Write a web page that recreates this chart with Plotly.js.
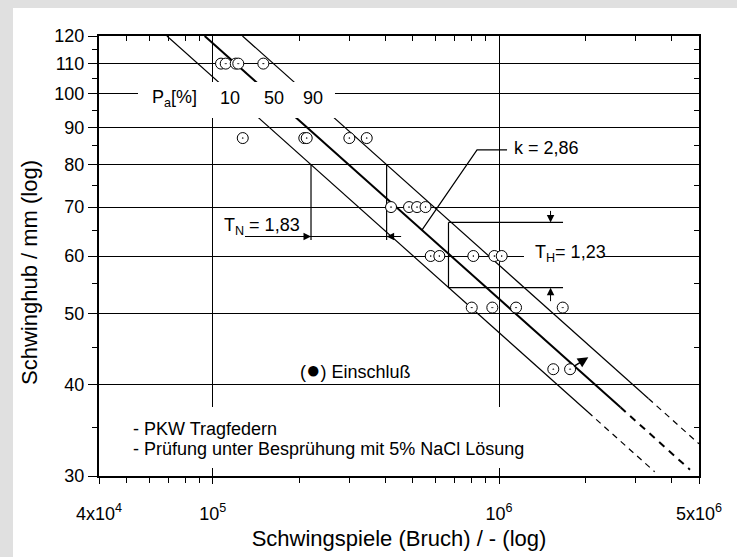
<!DOCTYPE html>
<html><head><meta charset="utf-8">
<script src="https://cdn.plot.ly/plotly-3.0.1.min.js"></script>
<style>html,body{margin:0;padding:0;background:#e0e0e0;} #chart{width:737px;height:557px;}</style>
</head><body><div id="chart"></div>
<script>
// ---------- data ----------
// test points: cycles to failure and stroke amplitude (mm)
const pointCycles = [106800,110900,120200,122700,150100,
                     127200,208700,212800,299900,344900,
                     419400,484800,517100,553600,
                     577300,618600,813400,963200,1022000,
                     803000,947700,1147000,1670000,
                     1548000,1772000];
const pointAmp = [110,110,110,110,110,
                  87,87,87,87,87,
                  70,70,70,70,
                  60,60,60,60,60,
                  51,51,51,51,
                  42,42];
// runout point (arrow tip)
const runoutCycles = [2052000];
const runoutAmp = [43.6];

// S-N lines for Pa = 10 / 50 / 90 %
const line10Cycles = [69100, 2046000];   const line10Amp = [120, 36.7];
const line10DashCycles = [2046000, 3500000]; const line10DashAmp = [36.7, 30.4];
const line50Cycles = [93600, 2658000];   const line50Amp = [120, 37.25];
const line50DashCycles = [2658000, 4650000]; const line50DashAmp = [37.25, 30.6];
const line90Cycles = [126900, 3328000];  const line90Amp = [120, 38.3];
const line90DashCycles = [3328000, 5000000]; const line90DashAmp = [38.3, 33.2];

// scatter-band construction T_N (at 80 mm)
const tnVertCycles = [220300, 404800];
const tnVertAmp = [80, 63.1];
const tnHorCycles = [129500, 450800];
const tnHorAmp = [63.8];
// scatter-band construction T_H
const thCycles = [666000, 1674000];
const thAmp = [66.7, 54.3];
const thArrowCycles = [1514000];
// leader line for slope k
const kLeaderCycles = [537700, 838000, 1067000];
const kLeaderAmp = [65.1, 83.8, 83.8];

// axes
const xTickVals = [4e4, 1e5, 1e6, 5e6];
const xTickText = ['4x10<sup>4</sup>', '10<sup>5</sup>', '10<sup>6</sup>', '5x10<sup>6</sup>'];
const xMinorVals = [5e4,6e4,7e4,8e4,9e4,2e5,3e5,4e5,5e5,6e5,7e5,8e5,9e5,2e6,3e6,4e6];
const yTickVals = [30,40,50,60,70,80,90,100,110,120];
const yMinorVals = [35,45,55,65,75,85,95,105,115];

// ---------- chart ----------
const FONT = 'Liberation Sans, Arial, sans-serif';
const L = (v) => Math.log10(v);
const thin = {color:'black', width:1.2};
const traces = [];
function seg(x, y, line) {
  traces.push({x:x, y:y, mode:'lines', line:line, hoverinfo:'skip', showlegend:false});
}
seg(line10Cycles, line10Amp, thin);
seg(line10DashCycles, line10DashAmp, {color:'black', width:1.2, dash:'6px,5px'});
seg(line50Cycles, line50Amp, {color:'black', width:2});
seg(line50DashCycles, line50DashAmp, {color:'black', width:2, dash:'7px,6px'});
seg(line90Cycles, line90Amp, thin);
seg(line90DashCycles, line90DashAmp, {color:'black', width:1.2, dash:'6px,5px'});
// T_N construction
seg([tnVertCycles[0], tnVertCycles[0]], tnVertAmp, thin);
seg([tnVertCycles[1], tnVertCycles[1]], tnVertAmp, thin);
seg(tnHorCycles, [tnHorAmp[0], tnHorAmp[0]], thin);
// T_H construction
seg(thCycles, [thAmp[0], thAmp[0]], thin);
seg(thCycles, [thAmp[1], thAmp[1]], thin);
seg([thCycles[0], thCycles[0]], thAmp, thin);
// k leader
seg(kLeaderCycles, kLeaderAmp, thin);
// points
traces.push({x:pointCycles, y:pointAmp, mode:'markers', showlegend:false,
  marker:{symbol:'circle-dot', size:11, color:'white', line:{color:'black', width:1}}});
// dummy for overlay axes
traces.push({x:[1e5], y:[50], xaxis:'x2', yaxis:'y2', mode:'markers',
  marker:{opacity:0}, hoverinfo:'skip', showlegend:false});

const tickFont = {family:FONT, size:18, color:'black'};
const layout = {
  width:737, height:557,
  margin:{l:99, r:38, t:36, b:81},
  paper_bgcolor:'#e0e0e0', plot_bgcolor:'white',
  font:{family:FONT, size:18, color:'black'},
  xaxis:{type:'log', range:[L(4e4), L(5e6)], tickmode:'array', tickvals:xTickVals, ticktext:xTickText,
    ticks:'outside', ticklen:6, tickwidth:1, tickcolor:'black', tickfont:tickFont, ticklabelstandoff:14,
    showline:true, linewidth:2, linecolor:'black', showgrid:true, gridcolor:'black', gridwidth:1,
    zeroline:false,
    minor:{tickmode:'array', tickvals:xMinorVals, ticks:'outside', ticklen:5, tickwidth:1, tickcolor:'black', showgrid:false},
    title:{text:'Schwingspiele (Bruch) / - (log)', font:{family:FONT, size:22, color:'black'}, standoff:8}},
  yaxis:{type:'log', range:[L(30), L(120)], tickmode:'array', tickvals:yTickVals,
    ticks:'outside', ticklen:9, tickwidth:1, tickcolor:'black', tickfont:tickFont,
    showline:true, linewidth:2, linecolor:'black', showgrid:true, gridcolor:'black', gridwidth:1,
    zeroline:false,
    minor:{tickmode:'array', tickvals:yMinorVals, ticks:'outside', ticklen:5, tickwidth:1, tickcolor:'black', showgrid:false}},
  xaxis2:{type:'log', overlaying:'x', side:'top', anchor:'y2', range:[L(4e4), L(5e6)], tickmode:'array', tickvals:xTickVals,
    ticks:'inside', ticklen:6, tickcolor:'black', showticklabels:false, showgrid:false, zeroline:false,
    showline:true, linewidth:2, linecolor:'black',
    minor:{tickmode:'array', tickvals:xMinorVals, ticks:'inside', ticklen:5, tickwidth:1, tickcolor:'black', showgrid:false}},
  yaxis2:{type:'log', overlaying:'y', side:'right', anchor:'x2', range:[L(30), L(120)], tickmode:'array', tickvals:yTickVals,
    ticks:'inside', ticklen:8, tickcolor:'black', showticklabels:false, showgrid:false, zeroline:false,
    showline:true, linewidth:2, linecolor:'black',
    minor:{tickmode:'array', tickvals:yMinorVals, ticks:'inside', ticklen:5, tickwidth:1, tickcolor:'black', showgrid:false}},
  shapes:[
    {type:'rect', xref:'paper', yref:'paper', x0:-0.1433, x1:1.2, y0:-0.4, y1:1.0636, fillcolor:'white', line:{width:0}, layer:'below'},
    {type:'rect', xref:'paper', yref:'paper', x0:0.065, x1:0.3933, y0:0.8136, y1:0.8955, fillcolor:'white', line:{width:0}, layer:'above'},
    {type:'rect', xref:'paper', yref:'paper', x0:0.0383, x1:0.71, y0:0.0182, y1:0.1568, fillcolor:'white', line:{width:0}, layer:'above'},
    {type:'rect', xref:'paper', yref:'paper', x0:0.7083, x1:0.8417, y0:0.4841, y1:0.5159, fillcolor:'white', line:{width:0}, layer:'above'}
  ],
  annotations:[]
};
const A = layout.annotations;
// y-axis title (placed as rotated text to match the reference position)
A.push({text:'Schwinghub / mm (log)', xref:'paper', yref:'paper', x:-0.115, y:0.4614,
  xanchor:'center', yanchor:'middle', textangle:-90, showarrow:false,
  font:{family:FONT, size:22, color:'black'}});
function txt(text, x, y, xanchor) {
  A.push({text:text, xref:'paper', yref:'paper', x:x, y:y, xanchor:xanchor||'left', yanchor:'middle',
    showarrow:false, font:{family:FONT, size:18, color:'black'}});
}
txt('P<sub>a</sub>[%]', 0.085, 0.858);
txt('10', 0.2183, 0.8602, 'center');
txt('50', 0.2917, 0.8602, 'center');
txt('90', 0.3567, 0.8602, 'center');
txt('T<sub>N</sub> = 1,83', 0.2045, 0.566);
txt('k = 2,86', 0.6883, 0.7448);
txt('T<sub>H</sub>= 1,23', 0.7233, 0.505);
txt('(<span style="font-size:24px">\u25CF</span>) Einschlu\u00DF', 0.3317, 0.242);
txt('- PKW Tragfedern', 0.0533, 0.1068);
txt('- Pr\u00FCfung unter Bespr\u00FChung mit 5% NaCl L\u00F6sung', 0.0533, 0.0625);

function arrow(xN, yS, ax, ay, w, size) {
  A.push({text:'', x:L(xN), y:L(yS), xref:'x', yref:'y', ax:ax, ay:ay, axref:'pixel', ayref:'pixel',
    showarrow:true, arrowhead:2, arrowsize:size, arrowwidth:w, arrowcolor:'black'});
}
arrow(tnVertCycles[0], tnHorAmp[0], -20, 0, 1, 1.5);
arrow(tnVertCycles[1], tnHorAmp[0], 16, 0, 1, 1.5);
arrow(thArrowCycles[0], thAmp[0], 0, -13, 1, 1.5);
arrow(thArrowCycles[0], thAmp[1], 0, 15, 1, 1.5);
arrow(runoutCycles[0], runoutAmp[0], -16, 10, 1.5, 1.4);

Plotly.newPlot('chart', traces, layout, {displayModeBar:false, staticPlot:true});
</script></body></html>
